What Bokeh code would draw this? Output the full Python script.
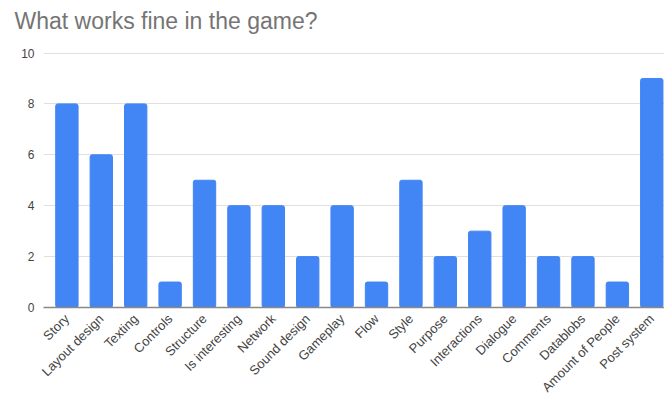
from bokeh.plotting import figure
from bokeh.models import Range1d, FixedTicker, ColumnDataSource, Title
from bokeh.embed import file_html
from bokeh.resources import INLINE
import math

categories = ["Story", "Layout design", "Texting", "Controls", "Structure",
              "Is interesting", "Network", "Sound design", "Gameplay", "Flow",
              "Style", "Purpose", "Interactions", "Dialogue", "Comments",
              "Datablobs", "Amount of People", "Post system"]
counts = [8, 6, 8, 1, 5, 4, 4, 2, 4, 1, 5, 2, 3, 4, 2, 2, 1, 9]
y_ticks = [0, 2, 4, 6, 8, 10]

xs = list(range(len(categories)))
src = ColumnDataSource(dict(x=xs, top=counts, cat=categories))

FONT = "Liberation Sans"

p = figure(width=664, height=403, output_backend="svg", toolbar_location=None,
           x_range=Range1d(-0.68, 17.37), y_range=Range1d(0, 10.57),
           min_border_left=43, min_border_right=0, min_border_bottom=96,
           min_border_top=0)

p.title = Title(text="What works fine in the game?", align="left",
                text_font=FONT, text_font_size="23px", text_font_style="normal",
                text_color="#757575", offset=-29, standoff=10)

p.vbar(x="x", top="top", width=0.65, source=src, color="#4285F4",
       line_color="#4285F4", border_radius=2)

p.outline_line_color = None
p.background_fill_color = "white"

yax = p.yaxis[0]
yax.ticker = FixedTicker(ticks=y_ticks)
yax.axis_line_color = None
yax.major_tick_line_color = None
yax.minor_tick_line_color = None
yax.major_tick_out = 0
yax.minor_tick_out = 0
yax.major_label_text_font = FONT
yax.major_label_text_font_size = "12px"
yax.major_label_text_color = "#444444"
yax.major_label_standoff = 9

xax = p.xaxis[0]
xax.ticker = FixedTicker(ticks=xs)
xax.major_label_overrides = {i: c for i, c in zip(xs, categories)}
xax.major_label_orientation = math.pi / 4
xax.axis_line_color = "#888888"
xax.axis_line_width = 1.5
xax.major_tick_line_color = None
xax.minor_tick_line_color = None
xax.major_tick_out = 0
xax.minor_tick_out = 0
xax.major_label_text_font = FONT
xax.major_label_text_font_size = "13px"
xax.major_label_text_color = "#444444"
xax.major_label_standoff = 9
xax.axis_label_standoff = 0

p.xgrid.grid_line_color = None
p.ygrid.ticker = FixedTicker(ticks=y_ticks)
p.ygrid.grid_line_color = "#E0E0E0"
p.ygrid.grid_line_width = 1

open("out.html", "w").write(file_html(p, INLINE))
